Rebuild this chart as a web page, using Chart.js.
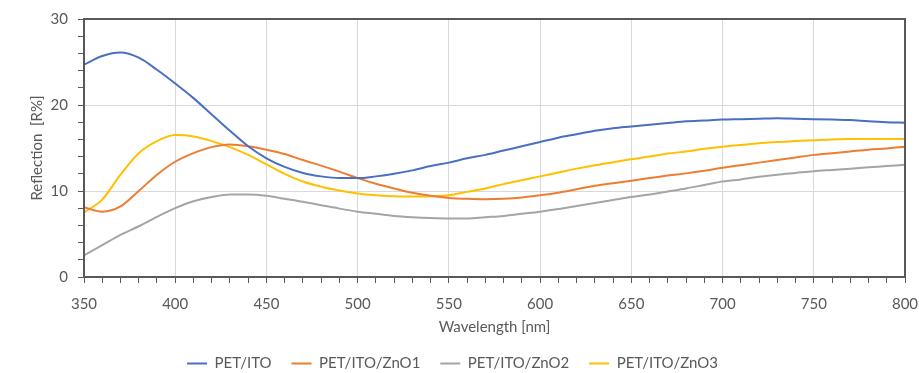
<!DOCTYPE html>
<html>
<head>
<meta charset="utf-8">
<script src="https://cdn.jsdelivr.net/npm/chart.js@4.4.1/dist/chart.umd.min.js"></script>
<style>
  html, body { margin: 0; padding: 0; background: #fff; }
  #wrap { width: 919px; height: 373px; }
</style>
</head>
<body>
<div id="wrap"><canvas id="chart" width="919" height="373"></canvas></div>
<script>
// wavelength grid, 350..800 nm every 10 nm
const wavelengths = [350, 360, 370, 380, 390, 400, 410, 420, 430, 440, 450, 460, 470, 480, 490, 500,
  510, 520, 530, 540, 550, 560, 570, 580, 590, 600, 610, 620, 630, 640, 650, 660, 670, 680, 690, 700,
  710, 720, 730, 740, 750, 760, 770, 780, 790, 800];

const petIto = [24.7, 25.7, 26.1, 25.5, 24.1, 22.5, 20.8, 18.9, 17.0, 15.2, 13.8, 12.8, 12.1, 11.7, 11.5, 11.5,
  11.7, 12.0, 12.4, 12.9, 13.3, 13.8, 14.2, 14.7, 15.2, 15.7, 16.2, 16.6, 17.0, 17.3, 17.5, 17.7, 17.9, 18.1, 18.2, 18.3,
  18.35, 18.4, 18.45, 18.4, 18.35, 18.3, 18.25, 18.1, 18.0, 17.95];

const petItoZnO1 = [8.1, 7.6, 8.2, 10.0, 11.9, 13.4, 14.4, 15.1, 15.4, 15.2, 14.8, 14.3, 13.6, 12.95, 12.25, 11.5,
  10.85, 10.3, 9.8, 9.45, 9.2, 9.1, 9.05, 9.1, 9.25, 9.5, 9.8, 10.2, 10.6, 10.9, 11.2, 11.5, 11.8, 12.05, 12.35, 12.7,
  13.0, 13.3, 13.6, 13.9, 14.2, 14.4, 14.6, 14.8, 14.95, 15.15];

const petItoZnO2 = [2.5, 3.7, 4.9, 5.9, 7.0, 8.0, 8.8, 9.3, 9.6, 9.6, 9.45, 9.1, 8.75, 8.35, 7.95, 7.6,
  7.35, 7.1, 6.95, 6.85, 6.8, 6.8, 6.95, 7.1, 7.35, 7.6, 7.9, 8.25, 8.6, 8.95, 9.3, 9.6, 9.95, 10.3, 10.7, 11.1,
  11.35, 11.65, 11.9, 12.1, 12.3, 12.45, 12.6, 12.75, 12.9, 13.05];

const petItoZnO3 = [7.5, 9.0, 11.9, 14.4, 15.8, 16.5, 16.35, 15.8, 15.1, 14.2, 13.1, 12.0, 11.1, 10.5, 10.05, 9.7,
  9.5, 9.4, 9.35, 9.4, 9.5, 9.9, 10.3, 10.8, 11.25, 11.7, 12.15, 12.6, 13.0, 13.35, 13.7, 14.0, 14.35, 14.6, 14.9, 15.15,
  15.35, 15.55, 15.7, 15.8, 15.9, 16.0, 16.05, 16.05, 16.05, 16.05];

const seriesNames = ["PET/ITO", "PET/ITO/ZnO1", "PET/ITO/ZnO2", "PET/ITO/ZnO3"];
const seriesColors = ["#4a6fc2", "#ed7d31", "#a5a5a5", "#ffc000"];
const seriesValues = [petIto, petItoZnO1, petItoZnO2, petItoZnO3];

const axisColor = "#595959";
const gridColor = "#d9d9d9";
const textColor = "#595959";

Chart.defaults.font.family = "Lato, 'Open Sans', sans-serif";
Chart.defaults.font.size = 15;
Chart.defaults.color = textColor;

// dark frame round the whole plot area (top and right sides too)
const plotFrame = {
  id: "plotFrame",
  afterDatasetsDraw(chart) {
    const { ctx, chartArea: a } = chart;
    ctx.save();
    ctx.strokeStyle = axisColor;
    ctx.lineWidth = 2;
    ctx.strokeRect(a.left, a.top, a.right - a.left, a.bottom - a.top);
    ctx.restore();
  },
};

new Chart(document.getElementById("chart"), {
  type: "line",
  data: {
    datasets: seriesNames.map((name, i) => ({
      label: name,
      data: wavelengths.map((w, j) => ({ x: w, y: seriesValues[i][j] })),
      borderColor: seriesColors[i],
      backgroundColor: seriesColors[i],
      borderWidth: 2,
      pointRadius: 0,
      cubicInterpolationMode: "monotone",
      fill: false,
    })),
  },
  options: {
    responsive: false,
    animation: false,
    layout: { padding: { left: 0, right: 14, top: 18, bottom: -8 } },
    plugins: {
      tooltip: { enabled: false },
      legend: {
        position: "bottom",
        labels: {
          usePointStyle: true,
          pointStyle: "line",
          pointStyleWidth: 20,
          padding: 20,
          color: textColor,
          font: { size: 15 },
        },
      },
    },
    scales: {
      x: {
        type: "linear",
        min: 350,
        max: 800,
        afterFit: (scale) => {
          scale.height = 59;
          scale.paddingLeft = 0;
          scale.paddingRight = 0;
        },
        ticks: {
          stepSize: 10,
          autoSkip: false,
          maxRotation: 0,
          padding: 12,
          color: textColor,
          callback: (v) => (v % 50 === 0 ? v : ""),
        },
        grid: {
          color: (c) => (c.tick && c.tick.value % 50 === 0 ? gridColor : "transparent"),
          tickColor: axisColor,
          tickLength: 6,
        },
        border: { display: true, color: axisColor, width: 2 },
        title: {
          display: true,
          text: "Wavelength [nm]",
          color: textColor,
          font: { size: 15 },
          padding: { top: 0, bottom: 0 },
        },
      },
      y: {
        min: 0,
        max: 30,
        afterFit: (scale) => { scale.width = 84; },
        ticks: {
          stepSize: 2,
          autoSkip: false,
          padding: 10,
          color: textColor,
          callback: (v) => (v % 10 === 0 ? v : ""),
        },
        grid: {
          color: (c) => (c.tick && c.tick.value % 10 === 0 ? gridColor : "transparent"),
          tickColor: axisColor,
          tickLength: 6,
        },
        border: { display: true, color: axisColor, width: 2 },
        title: {
          display: true,
          text: "Reflection  [R%]",
          color: textColor,
          font: { size: 15 },
          padding: { top: 28, bottom: 0 },
        },
      },
    },
  },
  plugins: [plotFrame],
});
</script>
</body>
</html>
